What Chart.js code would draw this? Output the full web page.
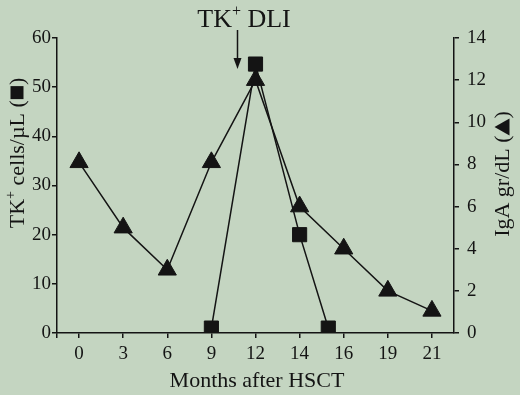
<!DOCTYPE html>
<html>
<head>
<meta charset="utf-8">
<script src="https://cdn.jsdelivr.net/npm/chart.js@4/dist/chart.umd.min.js"></script>
<style>
  html, body { margin: 0; padding: 0; background: #c4d5c1; }
  #wrap { width: 520px; height: 395px; }
</style>
</head>
<body>
<div id="wrap"><canvas id="MyChart" width="520" height="395"></canvas></div>
<script>
// month labels, one per evenly spaced slot on the x axis
var monthLabels = ['0', '3', '6', '9', '12', '14', '16', '19', '21'];

// IgA (gr/dL), triangles, one per slot
var igaX = [0, 1, 2, 3, 4, 5, 6, 7, 8];
var igaValues = [8.1, 5, 3, 8.1, 12, 6, 4, 2, 1.05];

// TK+ cells/uL, squares (last one sits between 14 and 16)
var tkX = [3, 4, 5, 5.65];
var tkValues = [1, 54.7, 20, 1];

// TK+ DLI given between the 9 and 12 month slots
var dliX = 3.58;

var ink = '#141414';
var serif = '"Liberation Serif", "DejaVu Serif", serif';

function drawRuns(ctx, runs, cx, cy, rot) {
  ctx.save();
  ctx.translate(cx, cy);
  ctx.rotate(rot);
  var total = 0;
  runs.forEach(function (r) {
    if (!r.shape) {
      ctx.font = r.size + 'px ' + serif;
      r.w = ctx.measureText(r.text).width;
    }
    total += r.w;
  });
  var x = -total / 2;
  ctx.fillStyle = ink;
  ctx.textBaseline = 'alphabetic';
  ctx.textAlign = 'left';
  runs.forEach(function (r) {
    if (r.shape === 'square') {
      ctx.fillRect(x + 1, -r.h / 2, r.w - 2, r.h);
    } else if (r.shape === 'triangle') {
      ctx.beginPath();
      ctx.moveTo(x + r.w / 2, -r.h / 2);
      ctx.lineTo(x + r.w, r.h / 2);
      ctx.lineTo(x, r.h / 2);
      ctx.closePath();
      ctx.fill();
    } else {
      ctx.font = r.size + 'px ' + serif;
      ctx.fillText(r.text, x, r.base + (r.dy || 0));
    }
    x += r.w;
  });
  ctx.restore();
}

var extras = {
  id: 'extras',
  afterDraw: function (chart) {
    var ctx = chart.ctx;
    // left axis title
    drawRuns(ctx, [
      { text: 'TK', size: 22, base: 7 },
      { text: '+', size: 14, base: 7, dy: -9 },
      { text: ' cells/\u00b5L (', size: 22, base: 7 },
      { shape: 'square', w: 15, h: 13 },
      { text: ')', size: 22, base: 7 }
    ], 17, 153, -Math.PI / 2);
    // right axis title
    drawRuns(ctx, [
      { text: 'IgA gr/dL (', size: 22, base: 7 },
      { shape: 'triangle', w: 17, h: 15 },
      { text: ')', size: 22, base: 7 }
    ], 502, 174, -Math.PI / 2);
    // x axis title
    drawRuns(ctx, [
      { text: 'Months after HSCT', size: 22, base: 7 }
    ], 257, 380, 0);
    // TK+ DLI annotation with arrow
    var ax = Math.round(chart.scales.x.getPixelForValue(dliX)) + 0.5;
    drawRuns(ctx, [
      { text: 'TK', size: 26, base: 9 },
      { text: '+', size: 16, base: 9, dy: -11 },
      { text: ' DLI', size: 26, base: 9 }
    ], 244, 18, 0);
    ctx.save();
    ctx.strokeStyle = ink;
    ctx.fillStyle = ink;
    ctx.lineWidth = 1.5;
    ctx.beginPath();
    ctx.moveTo(ax, 30);
    ctx.lineTo(ax, 60);
    ctx.stroke();
    ctx.beginPath();
    ctx.moveTo(ax - 4, 58);
    ctx.lineTo(ax + 4, 58);
    ctx.lineTo(ax, 69);
    ctx.closePath();
    ctx.fill();
    ctx.restore();
  }
};

var tickFont = { family: serif, size: 19 };

var ctx = document.getElementById('MyChart').getContext('2d');
var chart = new Chart(ctx, {
  type: 'line',
  data: {
    datasets: [
      {
        label: 'TK+ cells/uL',
        data: tkX.map(function (x, i) { return { x: x, y: tkValues[i] }; }),
        yAxisID: 'y',
        borderColor: ink,
        backgroundColor: ink,
        borderWidth: 1.5,
        pointStyle: 'rect',
        pointRadius: 10,
        pointBorderWidth: 1,
        tension: 0,
      },
      {
        label: 'IgA gr/dL',
        data: igaX.map(function (x, i) { return { x: x, y: igaValues[i] }; }),
        yAxisID: 'y2',
        borderColor: ink,
        backgroundColor: ink,
        borderWidth: 1.5,
        pointStyle: 'triangle',
        pointRadius: 10.5,
        pointBorderWidth: 1,
        tension: 0,
      },
    ],
  },
  options: {
    responsive: false,
    animation: false,
    layout: { padding: { top: 38, left: 0, right: 0, bottom: 0 } },
    scales: {
      x: {
        type: 'linear',
        min: -0.5,
        max: 8.5,
        afterBuildTicks: function (s) {
          s.ticks = [{ value: -0.5 }].concat(monthLabels.map(function (_, i) { return { value: i }; }));
        },
        afterFit: function (s) { s.height = 62; },
        grid: { drawOnChartArea: false, drawTicks: true, tickLength: 5, color: ink, lineWidth: 1.5 },
        border: { display: true, color: ink, width: 1.5 },
        ticks: {
          color: ink,
          font: tickFont,
          padding: 5,
          maxRotation: 0,
          autoSkip: false,
          callback: function (v) { return monthLabels[v] || ''; },
        },
      },
      y: {
        position: 'left',
        min: 0,
        max: 60,
        afterFit: function (s) { s.width = 57; },
        grid: { drawOnChartArea: false, drawTicks: true, tickLength: 5, color: ink, lineWidth: 1.5 },
        border: { display: true, color: ink, width: 1.5 },
        ticks: { stepSize: 10, color: ink, font: tickFont, padding: 1 },
      },
      y2: {
        position: 'right',
        min: 0,
        max: 14,
        afterFit: function (s) { s.width = 66; },
        grid: { drawOnChartArea: false, drawTicks: true, tickLength: 5, color: ink, lineWidth: 1.5 },
        border: { display: true, color: ink, width: 1.5 },
        ticks: { stepSize: 2, color: ink, font: tickFont, padding: 8 },
      },
    },
    plugins: {
      legend: { display: false },
      tooltip: { enabled: false },
      title: { display: false },
    },
  },
  plugins: [extras],
});
</script>
</body>
</html>
